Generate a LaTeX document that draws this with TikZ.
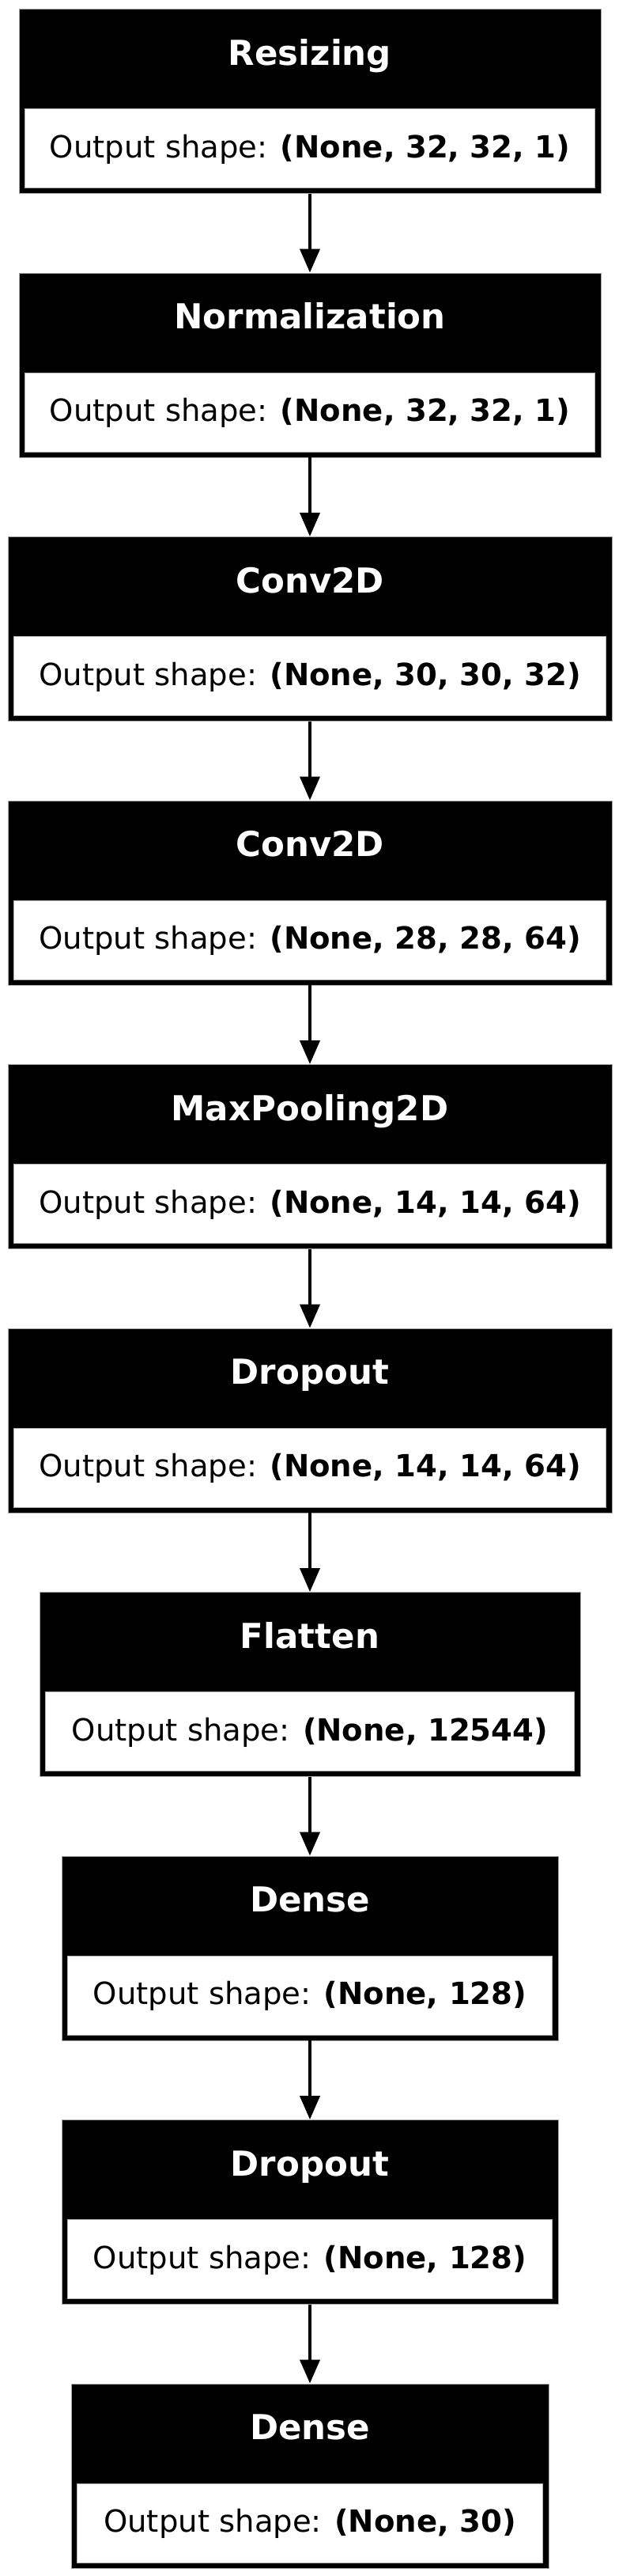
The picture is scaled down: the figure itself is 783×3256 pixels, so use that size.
\documentclass[tikz,border=0pt]{standalone}
\usepackage{fontspec}
\setmainfont{DejaVu Sans}
\usetikzlibrary{arrows.meta}
\tikzset{
  layerbox/.style={rectangle, fill=black, draw=gray!70, line width=0.8pt, inner sep=0pt, minimum height=233pt, anchor=north},
  shapebox/.style={fill=white, draw=gray!60, line width=1pt},
  titletext/.style={anchor=base, text=white, font=\fontsize{43.5}{50}\selectfont\bfseries, inner sep=0pt},
  bodytext/.style={anchor=base, text=black, font=\fontsize{38.6}{46}\selectfont, inner sep=0pt},
  arr/.style={line width=4pt, -{Triangle[length=30pt,width=25pt]}, shorten >=0pt}
}
\newcommand{\mylayer}[5]{%
  \node[layerbox, minimum width=#3pt] (#1) at (392,{-(11+#2*333.5)}) {};
  \fill[white] ([xshift=8pt,yshift=107pt]#1.south west) rectangle ([xshift=-8pt,yshift=7pt]#1.south east);
  \draw[shapebox] ([xshift=8pt,yshift=107pt]#1.south west) rectangle ([xshift=-8pt,yshift=7pt]#1.south east);
  \node[titletext] (#1t) at ([yshift=-71pt]#1.north) {#4};
  \node[bodytext] (#1s) at ([yshift=-188pt]#1.north) {Output shape: \textbf{#5}};
}
\begin{document}
\begin{tikzpicture}[x=1pt,y=1pt]
\useasboundingbox[fill=white] (0,0) rectangle (783,-3256);
\mylayer{l0}{0}{736}{Resizing}{(None, 32, 32, 1)}
\mylayer{l1}{1}{736}{Normalization}{(None, 32, 32, 1)}
\mylayer{l2}{2}{764}{Conv2D}{(None, 30, 30, 32)}
\mylayer{l3}{3}{764}{Conv2D}{(None, 28, 28, 64)}
\mylayer{l4}{4}{764}{MaxPooling2D}{(None, 14, 14, 64)}
\mylayer{l5}{5}{764}{Dropout}{(None, 14, 14, 64)}
\mylayer{l6}{6}{684}{Flatten}{(None, 12544)}
\mylayer{l7}{7}{628}{Dense}{(None, 128)}
\mylayer{l8}{8}{628}{Dropout}{(None, 128)}
\mylayer{l9}{9}{604}{Dense}{(None, 30)}
\foreach \a/\b in {l0/l1,l1/l2,l2/l3,l3/l4,l4/l5,l5/l6,l6/l7,l7/l8,l8/l9}
  \draw[arr] (\a.south) -- (\b.north);
\end{tikzpicture}
\end{document}
